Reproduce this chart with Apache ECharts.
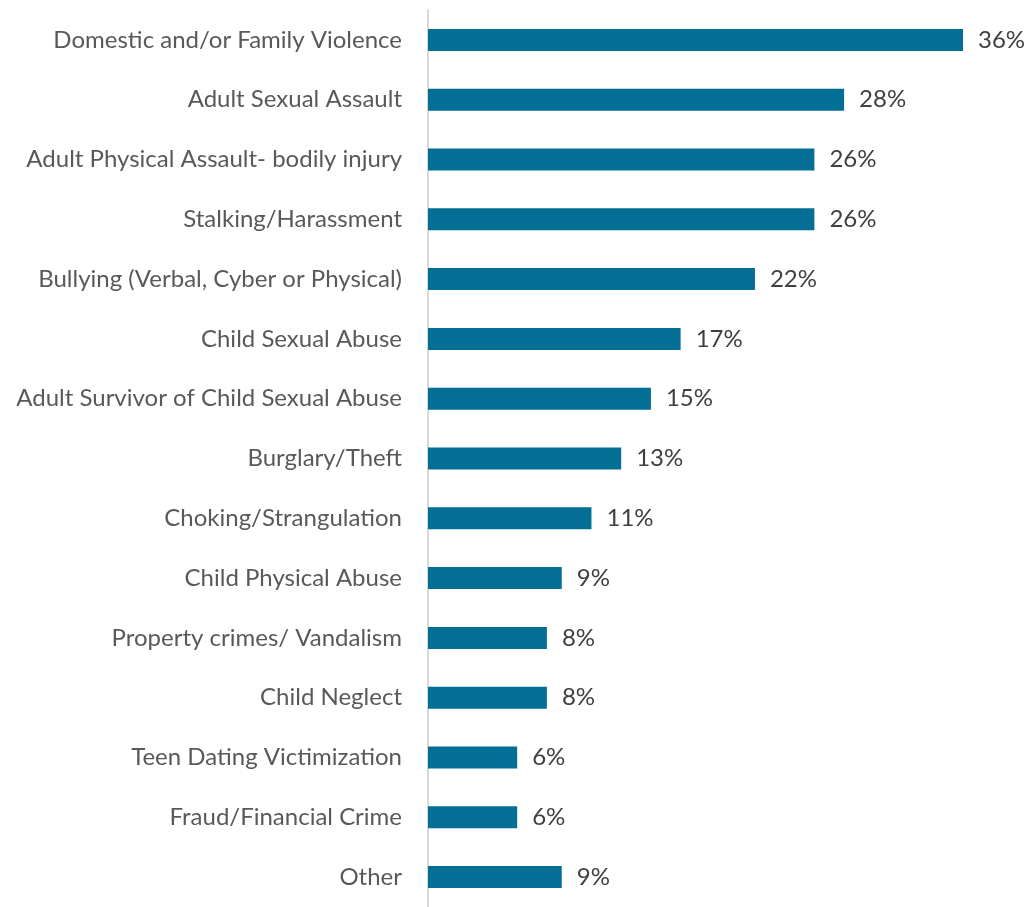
<!DOCTYPE html>
<html>
<head>
<meta charset="utf-8">
<script src="https://cdn.jsdelivr.net/npm/echarts@6/dist/echarts.min.js"></script>
<style>
  html, body { margin: 0; padding: 0; background: #ffffff; }
  #chart { width: 1029px; height: 907px; }
</style>
</head>
<body>
<div id="chart"></div>
<script>
// Victimization types, listed top to bottom
const categories = [
  'Domestic and/or Family Violence',
  'Adult Sexual Assault',
  'Adult Physical Assault- bodily injury',
  'Stalking/Harassment',
  'Bullying (Verbal, Cyber or Physical)',
  'Child Sexual Abuse',
  'Adult Survivor of Child Sexual Abuse',
  'Burglary/Theft',
  'Choking/Strangulation',
  'Child Physical Abuse',
  'Property crimes/ Vandalism',
  'Child Neglect',
  'Teen Dating Victimization',
  'Fraud/Financial Crime',
  'Other'
];
// Share of respondents, percent
const percents = [36, 28, 26, 26, 22, 17, 15, 13, 11, 9, 8, 8, 6, 6, 9];

const chart = echarts.init(document.getElementById('chart'));
chart.setOption({
  animation: false,
  grid: { left: 428, top: 10, width: 535, height: 901, containLabel: false },
  xAxis: {
    type: 'value', min: 0, max: 36,
    show: false
  },
  yAxis: {
    type: 'category',
    data: categories,
    inverse: true,
    axisLine: { show: true, lineStyle: { color: '#d9d9d9', width: 2 } },
    axisTick: { show: false },
    axisLabel: {
      margin: 26,
      color: '#595959',
      fontFamily: 'Lato',
      fontSize: 24
    }
  },
  series: [{
    type: 'bar',
    data: percents,
    barWidth: 22,
    itemStyle: { color: '#036f94' },
    label: {
      show: true,
      position: 'right',
      distance: 15,
      color: '#404040',
      fontFamily: 'Lato',
      fontSize: 24,
      formatter: p => p.value + '%'
    }
  }]
});
</script>
</body>
</html>
